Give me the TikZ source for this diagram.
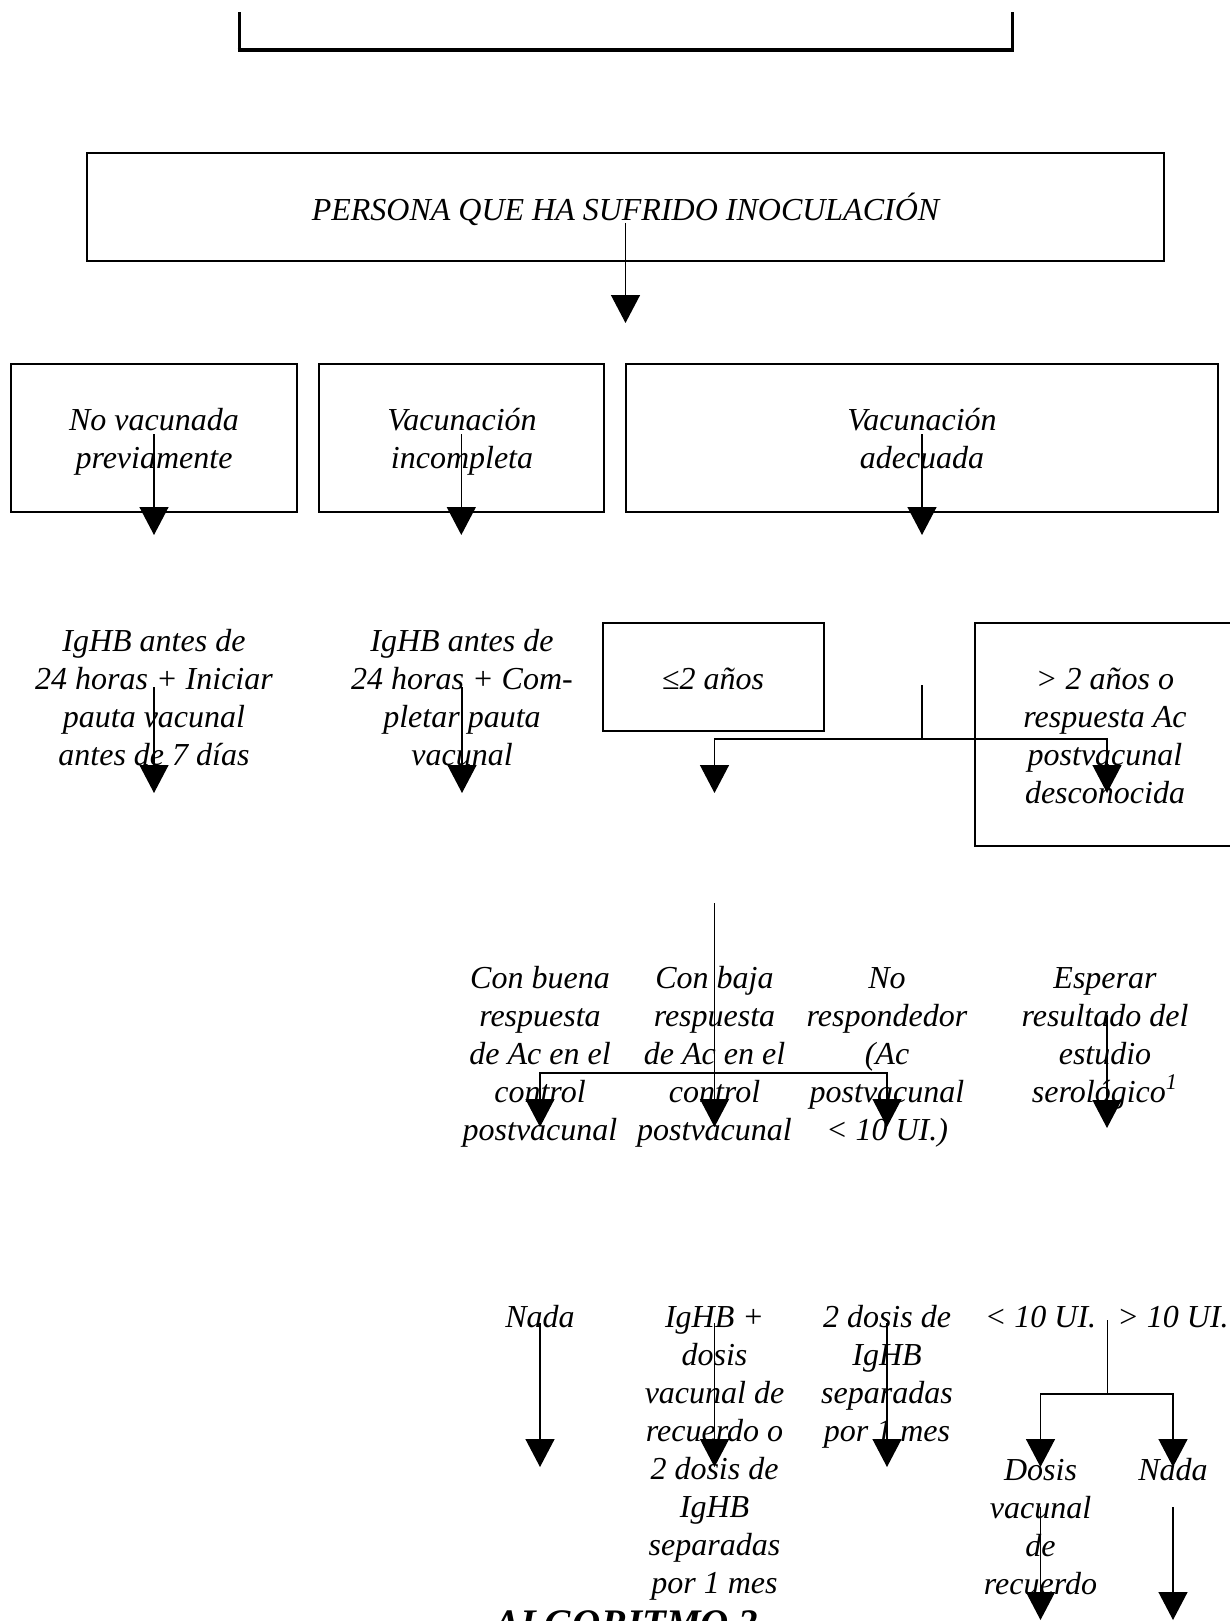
\documentclass[tikz,border=0pt]{standalone}
\usepackage{fontspec}
\setmainfont{Liberation Serif}
\usetikzlibrary{arrows.meta}
\newcommand\txtfont{\fontsize{16}{19}\selectfont\itshape}
\begin{document}
\begin{tikzpicture}[x=0.5pt,y=-0.5pt,
  box/.style={draw, line width=0.9pt, inner sep=0pt},
  lbl/.style={inner sep=0pt, align=center, anchor=north, font=\txtfont},
  conn/.style={line width=0.7pt},
  arr/.style={line width=0.7pt, -{Triangle[length=14pt,width=14.5pt]}}]
\useasboundingbox (0,0) rectangle (1230,1621);

% frame closing at the top
\draw[line width=1.5pt] (239,12.5) -- (239,50) -- (1012.5,50) -- (1012.5,12.5);
\draw[line width=2pt] (237.5,50) -- (1014,50);

% start
\node[box, minimum width=538.5pt, minimum height=54pt] (top) at (625.5,207) {};
\node[lbl] (topt) at (625.5,192.2) {\strut PERSONA QUE HA SUFRIDO INOCULACIÓN};
\draw[arr] (top.center |- 0,223) -- (top.center |- 0,323);

% vaccination status
\node[box, minimum width=143pt, minimum height=74pt] (b1) at (154,438) {};
\node[box, minimum width=142.7pt, minimum height=74pt] (b2) at (461.3,438) {};
\node[box, minimum width=296pt, minimum height=74pt] (b3) at (922,438) {};
\node[lbl] (b1t) at (154,403) {\strut No vacunada\\previamente};
\node[lbl] (b2t) at (462,403) {\strut Vacunación\\incompleta};
\node[lbl] (b3t) at (922,403) {\strut Vacunación\\adecuada};
\draw[arr] (b1.center |- 0,434) -- (b1.center |- 0,535);
\draw[arr] (b2.center |- 0,434) -- (b2.center |- 0,535);
\draw[arr] (b3.center |- 0,434) -- (b3.center |- 0,535);

% actions for unvaccinated / incomplete
\node[lbl] (t1) at (154,624.4) {\strut IgHB antes de\\24 horas + Iniciar\\pauta vacunal\\antes de 7 días};
\node[lbl] (t2) at (462,624.4) {\strut IgHB antes de\\24 horas + Com-\\pletar pauta\\vacunal};
\draw[arr] (t1.north |- 0,687) -- (t1.north |- 0,793);
\draw[arr] (t2.north |- 0,687) -- (t2.north |- 0,793);

% adequate vaccination: time since vaccination
\node[box, minimum width=110.5pt, minimum height=54pt] (s1) at (713.5,677) {};
\node[box, minimum width=130pt, minimum height=111.5pt] (s2) at (1105,734.5) {};
\node[lbl] (s1t) at (713,662.4) {\strut{\upshape≤}2 años};
\node[lbl] (s2t) at (1105,662.4) {\strut > 2 años o\\respuesta Ac\\postvacunal\\desconocida};
\coordinate (j1) at (b3.center |- 0,739);
\draw[conn] (b3.center |- 0,685) -- (j1);
\draw[arr] (j1) -| (714.5,793);
\draw[arr] (j1) -| (1107,793);

% antibody response
\node[lbl] (c1) at (540,961.4) {\strut Con buena\\respuesta\\de Ac en el\\control\\postvacunal};
\node[lbl] (c2) at (714.5,961.4) {\strut Con baja\\respuesta\\de Ac en el\\control\\postvacunal};
\node[lbl] (c3) at (887,961.4) {\strut No\\respondedor\\(Ac\\postvacunal\\< 10 UI.)};
\node[lbl] (c4) at (1105,961.4) {\strut Esperar\\resultado del\\estudio\\serológico\textsuperscript{1}};
\coordinate (j2) at (c2.north |- 0,1073);
\draw[arr] (c2.north |- 0,903) -- (c2.north |- 0,1127);
\draw[arr] (j2) -| (c1.north |- 0,1127);
\draw[arr] (j2) -| (c3.north |- 0,1127);
\draw[arr] (1107,1015) -- (1107,1128);

% measures
\node[lbl] (d1) at (540,1300.5) {\strut Nada};
\node[lbl] (d2) at (714.5,1300.5) {\strut IgHB +\\dosis\\vacunal de\\recuerdo o\\2 dosis de\\IgHB\\separadas\\por 1 mes};
\node[lbl] (d3) at (887,1300.5) {\strut 2 dosis de\\IgHB\\separadas\\por 1 mes};
\node[lbl] (d4) at (1040.5,1300.5) {\strut < 10 UI.};
\node[lbl] (d5) at (1173,1300.5) {\strut > 10 UI.};
\draw[arr] (d1.north |- 0,1323) -- (d1.north |- 0,1467);
\draw[arr] (d2.north |- 0,1323) -- (d2.north |- 0,1467);
\draw[arr] (d3.north |- 0,1323) -- (d3.north |- 0,1467);
\coordinate (j3) at (1107.5,1394);
\draw[conn] (1107.5,1320) -- (j3);
\draw[arr] (j3) -| (d4.north |- 0,1467);
\draw[arr] (j3) -| (d5.north |- 0,1467);

\node[lbl] (e1) at (1040.5,1453.5) {\strut Dosis\\vacunal\\de\\recuerdo};
\node[lbl] (e2) at (1173,1453.5) {\strut Nada};
\draw[arr] (e1.north |- 0,1507) -- (e1.north |- 0,1620);
\draw[arr] (e2.north |- 0,1507) -- (e2.north |- 0,1620);

% title
\node[anchor=base, inner sep=0pt, font=\fontsize{19.5}{23}\selectfont\bfseries\itshape] (alg) at (626.5,1636) {ALGORITMO 2};
\end{tikzpicture}
\end{document}
